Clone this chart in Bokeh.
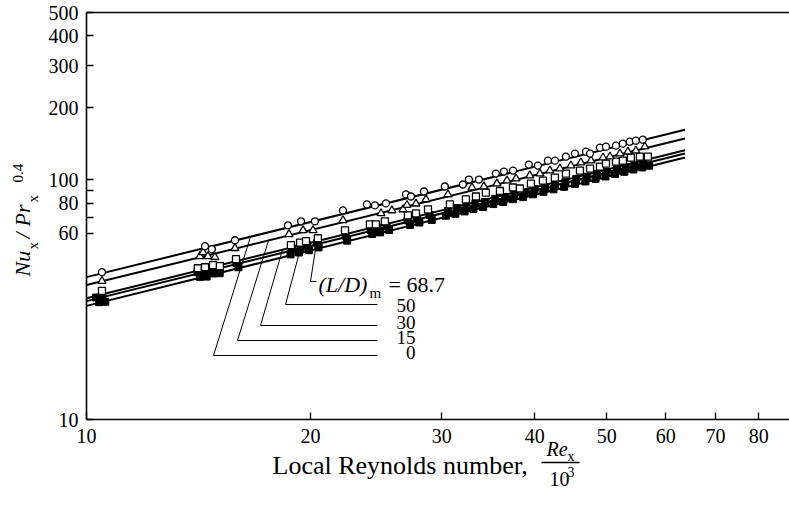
import numpy as np
from bokeh.plotting import figure
from bokeh.models import Range1d, FixedTicker, NumeralTickFormatter, LogAxis
from bokeh.core.properties import value
from bokeh.embed import file_html
from bokeh.resources import INLINE

# ---------------- data (Re_x / 10^3 , Nu_x / Pr_x^0.4) ----------------
ld_values = ["0", "15", "30", "50", "68.7"]

x_ticks = [10, 20, 30, 40, 50, 60, 70, 80]
y_ticks = [10, 60, 70, 80, 90, 100, 200, 300, 400, 500]
y_tick_labels = ["10", "60", "", "80", "", "100", "200", "300", "400", "500"]

# correlation lines (end points)
line_x = [10.0, 63.7]
line_ld0 = [39.3, 162.0]
line_ld15 = [36.4, 149.0]
line_ld30 = [32.1, 133.0]
line_ld50 = [31.2, 129.0]
line_ld687 = [29.8, 124.0]

# L/D = 0 (open circles)
x_ld0 = [10.49, 14.43, 14.74, 15.83, 18.65, 19.42, 20.27, 22.11, 23.81, 24.41, 25.25, 26.87,
         27.29, 28.41, 30.30, 32.04, 32.64, 33.67, 35.48, 36.38, 37.41, 39.29, 40.41, 41.68,
         42.59, 44.07, 45.31, 46.89, 47.48, 48.96, 49.88, 51.44, 52.56, 53.70, 54.71, 55.90]
y_ld0 = [41.2, 52.9, 51.4, 56.0, 64.6, 67.2, 67.2, 74.6, 79.0, 78.3, 79.8, 87.0,
         85.3, 89.5, 93.9, 95.7, 100.4, 100.4, 106.3, 108.4, 109.4, 115.9, 114.8, 120.4,
         120.4, 125.1, 128.8, 131.2, 128.8, 136.4, 137.7, 139.0, 141.7, 144.4, 145.8, 147.2]

# L/D = 15 (open triangles)
x_ld15 = [10.49, 14.20, 14.34, 14.56, 14.88, 15.83, 18.71, 19.54, 20.15, 22.11, 24.87, 25.72,
          26.62, 26.95, 27.71, 28.58, 30.59, 32.95, 34.19, 35.60, 36.72, 37.76, 39.41, 40.66,
          41.94, 43.25, 44.75, 46.15, 47.62, 49.42, 50.50, 52.08, 53.38, 54.71, 56.25]
y_ld15 = [37.8, 48.0, 49.9, 48.0, 47.6, 51.9, 59.3, 61.6, 61.6, 67.8, 72.5, 74.6,
          75.3, 78.5, 79.6, 82.9, 87.0, 93.0, 93.9, 96.6, 99.4, 101.3, 104.3, 106.3,
          109.4, 111.5, 114.8, 118.1, 120.4, 123.9, 125.1, 128.8, 131.2, 132.5, 137.7]

# L/D = 30 (open squares)
x_ld30 = [10.49, 14.11, 14.43, 14.79, 15.11, 15.88, 18.82, 19.36, 19.72, 20.46, 22.25, 24.03,
          24.48, 25.17, 27.03, 27.71, 28.76, 30.78, 32.34, 33.36, 34.40, 35.93, 37.41, 38.22,
          39.54, 41.04, 42.59, 44.07, 46.02, 47.48, 48.96, 49.88, 51.44, 52.56, 53.87, 55.40, 56.78]
y_ld30 = [34.4, 42.8, 43.2, 44.1, 43.7, 46.7, 53.4, 54.7, 55.5, 57.1, 61.6, 65.2,
          65.2, 67.2, 71.1, 72.5, 75.3, 79.0, 82.9, 85.3, 88.6, 89.9, 93.0, 92.1,
          96.6, 99.4, 102.3, 106.3, 109.4, 111.5, 113.7, 117.0, 119.2, 120.4, 123.9, 125.1, 125.1]

# L/D = 50 (filled squares)
x_ld50 = [10.3, 10.5, 14.1, 14.4, 14.7, 15.0, 15.9, 18.9, 19.4, 19.8, 20.4, 22.3, 24.1, 24.6,
          25.3, 27.0, 27.8, 28.9, 30.6, 31.5, 32.4, 33.3, 34.3, 35.4, 36.5, 37.6, 38.8, 40.0,
          41.3, 42.6, 44.0, 45.5, 47.0, 48.5, 50.0, 51.6, 53.0, 54.5, 56.0]
y_ld50 = [32.3, 32.6, 41.2, 41.6, 42.5, 42.9, 45.1, 51.6, 52.3, 53.5, 54.4, 58.5, 61.8, 63.1,
          64.0, 67.8, 68.9, 71.4, 74.2, 76.3, 77.5, 79.6, 80.9, 83.4, 84.9, 87.3, 88.9, 91.6,
          93.3, 96.0, 97.9, 101.0, 103.0, 106.0, 108.0, 111.2, 112.9, 115.8, 117.9]

# L/D = 68.7 (filled squares)
x_ld687 = [10.4, 10.6, 14.2, 14.5, 14.8, 15.1, 16.0, 18.8, 19.3, 19.9, 20.5, 22.4, 24.2, 24.8,
           25.5, 27.2, 28.0, 29.1, 30.4, 31.3, 32.2, 33.1, 34.1, 35.2, 36.3, 37.4, 38.6, 39.8,
           41.1, 42.4, 43.8, 45.3, 46.8, 48.3, 49.8, 51.3, 52.8, 54.3, 55.8, 57.0]
y_ld687 = [30.9, 31.0, 39.4, 39.5, 40.7, 40.8, 43.2, 48.9, 49.8, 50.9, 52.3, 55.8, 59.5, 60.4,
           61.8, 64.9, 66.4, 68.1, 70.9, 72.2, 73.9, 75.6, 77.1, 79.3, 80.9, 83.1, 84.8, 87.1,
           89.2, 91.4, 93.6, 96.3, 98.6, 101.1, 103.4, 105.9, 108.1, 110.6, 112.8, 114.7]

# ---------------- geometry ----------------
W, H = 789, 508
X0, X1 = 10.0, 88.0        # visible axis extent
Y0, Y1 = 10.0, 500.0
AL, AR = 86, 789           # page pixels of x = X0 and x = X1
AB, AT = 419, 12           # page pixels of y = Y0 and y = Y1
SERIF = "Liberation Serif"

kx = (AR - AL) / np.log10(X1 / X0)
ky = (AB - AT) / np.log10(Y1 / Y0)


def dx(px):
    return X0 * 10 ** ((px - AL) / kx)


def dy(py):
    return Y0 * 10 ** ((AB - py) / ky)


# the frame fills the page; axes are pinned at x = 10 and y = 10
p = figure(width=W, height=H, x_axis_type="log", y_axis_type="log",
           x_range=Range1d(dx(0), dx(W)), y_range=Range1d(dy(H), dy(0)),
           output_backend="svg", toolbar_location=None,
           min_border_left=0, min_border_right=0, min_border_top=0, min_border_bottom=0)
p.outline_line_color = None
p.grid.visible = False
p.background_fill_color = "white"
p.border_fill_color = "white"

for ax in (p.xaxis[0], p.yaxis[0]):
    ax.axis_line_color = "black"
    ax.axis_line_width = 1.6
    ax.major_tick_line_color = "black"
    ax.major_tick_line_width = 1.3
    ax.major_tick_in = 7
    ax.major_tick_out = 0
    ax.minor_tick_line_color = None
    ax.major_label_text_font = SERIF
    ax.major_label_text_font_size = "20px"
    ax.major_label_text_color = "black"
    ax.formatter = NumeralTickFormatter(format="0")

p.xaxis.fixed_location = Y0
p.xaxis.bounds = (X0, X1)
p.xaxis.ticker = FixedTicker(ticks=x_ticks, minor_ticks=[])
p.xaxis.major_label_overrides = {t: str(t) for t in x_ticks}
p.xaxis.major_label_standoff = 9

p.yaxis.fixed_location = X0
p.yaxis.bounds = (Y0, Y1)
p.yaxis.ticker = FixedTicker(ticks=y_ticks, minor_ticks=[])
p.yaxis.major_label_overrides = {t: s for t, s in zip(y_ticks, y_tick_labels)}
p.yaxis.major_label_standoff = 8

top = LogAxis(fixed_location=Y1, bounds=(X0, X1), ticker=FixedTicker(ticks=[], minor_ticks=[]),
              axis_line_color="black", axis_line_width=1.6,
              major_tick_line_color=None, minor_tick_line_color=None,
              major_label_text_font_size="0px")
p.add_layout(top, "above")

# correlation lines
for ly in (line_ld0, line_ld15, line_ld30, line_ld50, line_ld687):
    p.line(line_x, ly, line_color="black", line_width=2)

# data points
p.scatter(x_ld687, y_ld687, marker="square", size=7, fill_color="black", line_color="black")
p.scatter(x_ld50, y_ld50, marker="square", size=7, fill_color="black", line_color="black")
p.scatter(x_ld30, y_ld30, marker="square", size=7, fill_color="white", line_color="black", line_width=1.3)
p.scatter(x_ld15, y_ld15, marker="triangle", size=8, fill_color="white", line_color="black", line_width=1.3)
p.scatter(x_ld0, y_ld0, marker="circle", size=7, fill_color="white", line_color="black", line_width=1.3)


def on_line(x, ly):
    b = np.log(ly[1] / ly[0]) / np.log(line_x[1] / line_x[0])
    return ly[0] * (x / line_x[0]) ** b


def txt(s, px, py, size, style="normal", align="left", angle=0.0, font=SERIF):
    p.text(x=[dx(px)], y=[dy(py)], text=[s], text_font=value(font),
           text_font_size=value(f"{size}px"), text_font_style=style,
           text_align=align, text_baseline="middle", angle=angle, text_color="black")


# leader lines to the correlation lines
for ly, ptop, pcx, pcy in ((line_ld0, 250, 213, 355), (line_ld15, 268, 237, 340),
                           (line_ld30, 282, 260, 325), (line_ld50, 300, 285, 304)):
    xt = dx(ptop)
    p.line([xt, dx(pcx), dx(377)], [on_line(xt, ly), dy(pcy), dy(pcy)],
           line_color="black", line_width=1)
xt = dx(315)
p.line([xt, dx(310), dx(316)], [on_line(xt, line_ld687), dy(281), dy(281)],
       line_color="black", line_width=1)

txt("(L/D)", 318, 284, 22, style="italic")
txt("m", 369, 292, 15)
txt("= " + ld_values[4], 388, 284, 22)
for s, cy in zip(ld_values[3::-1], (305, 322, 337, 352)):
    txt(s, 415, cy, 19, align="right")

# y-axis title (rotated)
A = np.pi / 2
txt("Nu", 22, 276, 22, style="italic", angle=A)
txt("x", 32, 249, 15, angle=A)
txt("/", 22, 238, 22, style="italic", angle=A)
txt("Pr", 22, 226, 22, style="italic", angle=A)
txt("x", 32, 202, 15, angle=A)
txt("0.4", 17, 182, 15, angle=A)

# x-axis title
txt("Local Reynolds number,", 272, 465, 26)
txt("Re", 546, 448, 20, style="italic")
txt("x", 567, 456, 14)
p.line([dx(541), dx(579)], [dy(462), dy(462)], line_color="black", line_width=1.3)
txt("10", 549, 478, 20)
txt("3", 567, 471, 14)

open("out.html", "w").write(file_html(p, INLINE))
